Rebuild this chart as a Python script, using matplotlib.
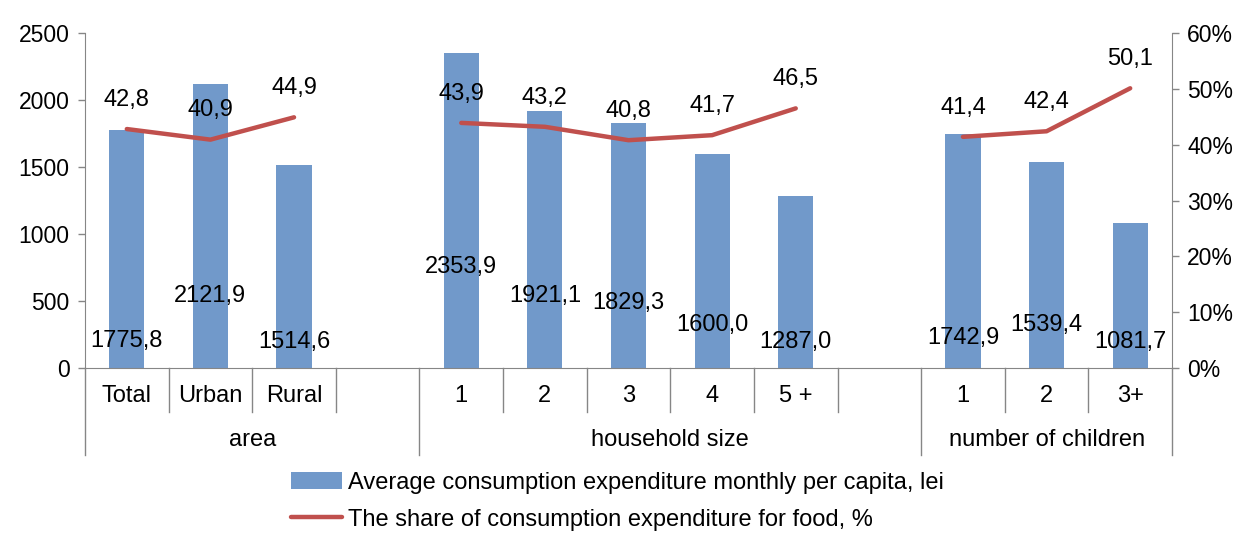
import matplotlib
matplotlib.use("Agg")
import matplotlib.pyplot as plt
from matplotlib.transforms import blended_transform_factory
import numpy as np

plt.rcParams['font.family'] = ['Liberation Sans', 'DejaVu Sans']

# ---- data ----
categories = ["Total", "Urban", "Rural", "", "1", "2", "3", "4", "5 +", "", "1", "2", "3+"]
groups = ["area", "household size", "number of children"]
group_spans = [(0, 4), (4, 10), (10, 13)]  # slot ranges [start, end)
expenditure = [1775.8, 2121.9, 1514.6, np.nan, 2353.9, 1921.1, 1829.3, 1600.0, 1287.0, np.nan, 1742.9, 1539.4, 1081.7]
food_share = [42.8, 40.9, 44.9, np.nan, 43.9, 43.2, 40.8, 41.7, 46.5, np.nan, 41.4, 42.4, 50.1]
bar_label_y = [200, 537, 194, np.nan, 754, 537, 485, 321, 194, np.nan, 224, 321, 194]
left_ticks = [0, 500, 1000, 1500, 2000, 2500]
right_ticks = [0, 10, 20, 30, 40, 50, 60]

bar_name = "Average consumption expenditure monthly per capita, lei"
line_name = "The share of consumption expenditure for food, %"

BAR_C = "#7199CA"
LINE_C = "#C0504D"
AX_C = "#868686"
FS = 17
TFS = 16.5

fig = plt.figure(figsize=(12.44, 5.34), dpi=100)
ax = fig.add_axes([85/1244, 1-368/534, (1172-85)/1244, (368-33)/534])
ax2 = ax.twinx()

x = np.arange(len(categories))
bars = ax.bar(x, expenditure, width=0.42, color=BAR_C, zorder=2, label=bar_name)
ax.set_xlim(-0.5, len(categories)-0.5)
ax.set_ylim(0, 2500)
ax.set_yticks(left_ticks)
ax.set_yticklabels([str(t) for t in left_ticks], fontsize=TFS)
ax.set_xticks([])

ln, = ax2.plot(x, food_share, color=LINE_C, lw=3.2, solid_capstyle='round', zorder=3, label=line_name)
ax2.set_ylim(0, 60)
ax2.set_yticks(right_ticks)
ax2.set_yticklabels([f"{t}%" for t in right_ticks], fontsize=TFS)

for a in (ax, ax2):
    a.spines["top"].set_visible(False)
    a.spines["left"].set_color(AX_C)
    a.spines["right"].set_color(AX_C)
    a.spines["bottom"].set_color(AX_C)
    a.tick_params(axis='y', colors=AX_C, length=5, width=1, labelcolor="black", pad=6)
ax.spines["right"].set_visible(False)
ax2.spines["left"].set_visible(False)
ax2.spines["bottom"].set_visible(False)

# bar value labels
for xi, v, ly in zip(x, expenditure, bar_label_y):
    if np.isnan(v):
        continue
    ax.text(xi, ly, f"{v:.1f}".replace(".", ","), ha="center", va="center", fontsize=FS, zorder=4)

# line value labels
for xi, v in zip(x, food_share):
    if np.isnan(v):
        continue
    ax2.annotate(f"{v:.1f}".replace(".", ","), (xi, v), xytext=(0, 21), textcoords="offset points",
                 ha="center", va="center", fontsize=FS, zorder=4)

# two-level category axis
tr = blended_transform_factory(ax.transData, ax.transAxes)
ax_h = (368-33)
short_y = -(412-368)/ax_h
long_y = -(455-368)/ax_h
lab1_y = -(396-368)/ax_h
lab2_y = -(440-368)/ax_h
group_edges = set()
for s, e in group_spans:
    group_edges.add(s); group_edges.add(e)
for k in range(len(categories)+1):
    xb = k - 0.5
    yb = long_y if k in group_edges else short_y
    ax.plot([xb, xb], [0, yb], color=AX_C, lw=1, transform=tr, clip_on=False)
for xi, c in zip(x, categories):
    if c:
        ax.text(xi, lab1_y, c, transform=tr, ha="center", va="center", fontsize=FS)
for g, (s, e) in zip(groups, group_spans):
    ax.text((s + e - 1) / 2, lab2_y, g, transform=tr, ha="center", va="center", fontsize=FS)

fig.legend([bars, ln], [bar_name, line_name], loc="upper left", bbox_to_anchor=(291/1244, 1-472/534),
           frameon=False, fontsize=FS, handlelength=2.15, handletextpad=0.25, labelspacing=0.62,
           borderaxespad=0, borderpad=0)

fig.savefig("out.png", dpi=100)
